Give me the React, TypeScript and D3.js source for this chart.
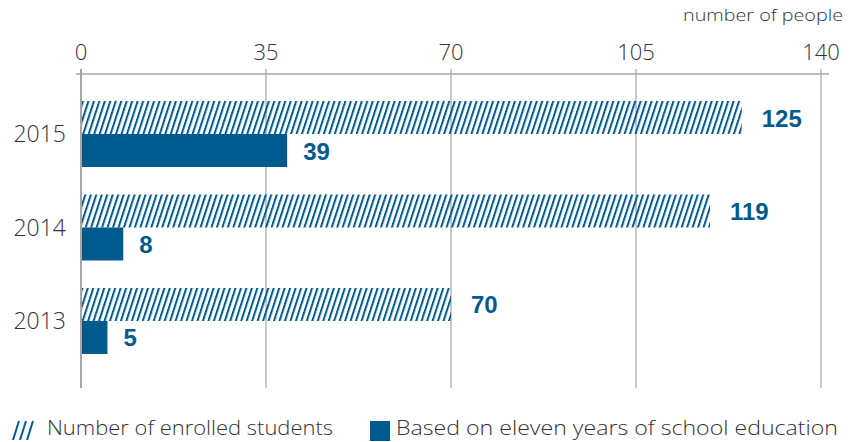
import React from 'react';
import * as d3 from 'd3';

const years = ['2015', '2014', '2013'];
const enrolled = [125, 119, 70];
const elevenYears = [39, 8, 5];
const ticks = [0, 35, 70, 105, 140];

const BLUE = '#005a8e';
const GRID = '#a6a6a6';
const TEXT = '#333333';
const FONT = '"Open Sans", "DejaVu Sans", sans-serif';
const BOLD = '"Liberation Sans", Arial, sans-serif';

const App: React.FC = () => {
    const width = 857;
    const height = 442;
    const margin = { top: 74, left: 81, right: 36 };

    const x = d3.scaleLinear()
        .domain([0, 140])
        .range([margin.left, width - margin.right]);

    const y = d3.scaleBand<string>()
        .domain(years)
        .range([101, 354])
        .paddingInner(0.294)
        .paddingOuter(0);

    const bh = y.bandwidth() / 2;

    return (
        <svg width={width} height={height} style={{ position: 'absolute', left: 0, top: 0 }}>
            <defs>
                <pattern id="hatch" patternUnits="userSpaceOnUse" width={5.2} height={10}
                    patternTransform="rotate(18)">
                    <rect x={0} y={0} width={2} height={10} fill={BLUE} />
                </pattern>
            </defs>

            <text x={843} y={21} textAnchor="end" fontFamily={FONT} fontWeight={300} fontSize={17}
                fill={TEXT} textLength={160} lengthAdjust="spacingAndGlyphs">
                number of people
            </text>

            {/* axis + grid */}
            <line x1={x(0) - 5} x2={x(140) + 8} y1={margin.top} y2={margin.top} stroke={GRID} strokeWidth={1.5} />
            {ticks.map(t => (
                <g key={t}>
                    <line x1={x(t)} x2={x(t)} y1={margin.top - 5} y2={388}
                        stroke={GRID} strokeWidth={t === 0 ? 2 : 1.2} />
                    <text x={x(t)} y={60} textAnchor="middle" fontFamily={FONT} fontWeight={300}
                        fontSize={22} fill={TEXT}>
                        {t}
                    </text>
                </g>
            ))}

            {years.map((yr, i) => {
                const y0 = y(yr) ?? 0;
                return (
                    <g key={yr}>
                        <rect x={x(0) + 1} y={y0} width={x(enrolled[i]) - x(0) - 1} height={bh} fill="url(#hatch)" />
                        <rect x={x(0) + 1} y={y0 + bh} width={x(elevenYears[i]) - x(0) - 1} height={bh} fill={BLUE} />
                        <text x={x(enrolled[i]) + 20} y={y0 + bh / 2 + 9} fontFamily={BOLD} fontWeight={700}
                            fontSize={24} fill={BLUE}>{enrolled[i]}</text>
                        <text x={x(elevenYears[i]) + 16} y={y0 + bh * 1.5 + 9} fontFamily={BOLD} fontWeight={700}
                            fontSize={24} fill={BLUE}>{elevenYears[i]}</text>
                        <text x={66} y={y0 + bh + 8} textAnchor="end" fontFamily={FONT} fontWeight={300}
                            fontSize={23} fill={TEXT}>
                            {yr}
                        </text>
                    </g>
                );
            })}

            {/* legend */}
            <g>
                {[0, 1, 2].map(k => (
                    <line key={k} x1={13 + k * 7} y1={440} x2={19 + k * 7} y2={421}
                        stroke={BLUE} strokeWidth={2} />
                ))}
                <text x={47} y={435} fontFamily={FONT} fontWeight={300} fontSize={20} fill={TEXT}
                    textLength={286} lengthAdjust="spacingAndGlyphs">Number of enrolled students</text>
                <rect x={370} y={421} width={20} height={20} fill={BLUE} />
                <text x={396} y={435} fontFamily={FONT} fontWeight={300} fontSize={20} fill={TEXT}
                    textLength={442} lengthAdjust="spacingAndGlyphs">Based on eleven years of school education</text>
            </g>
        </svg>
    );
};

export default App;
